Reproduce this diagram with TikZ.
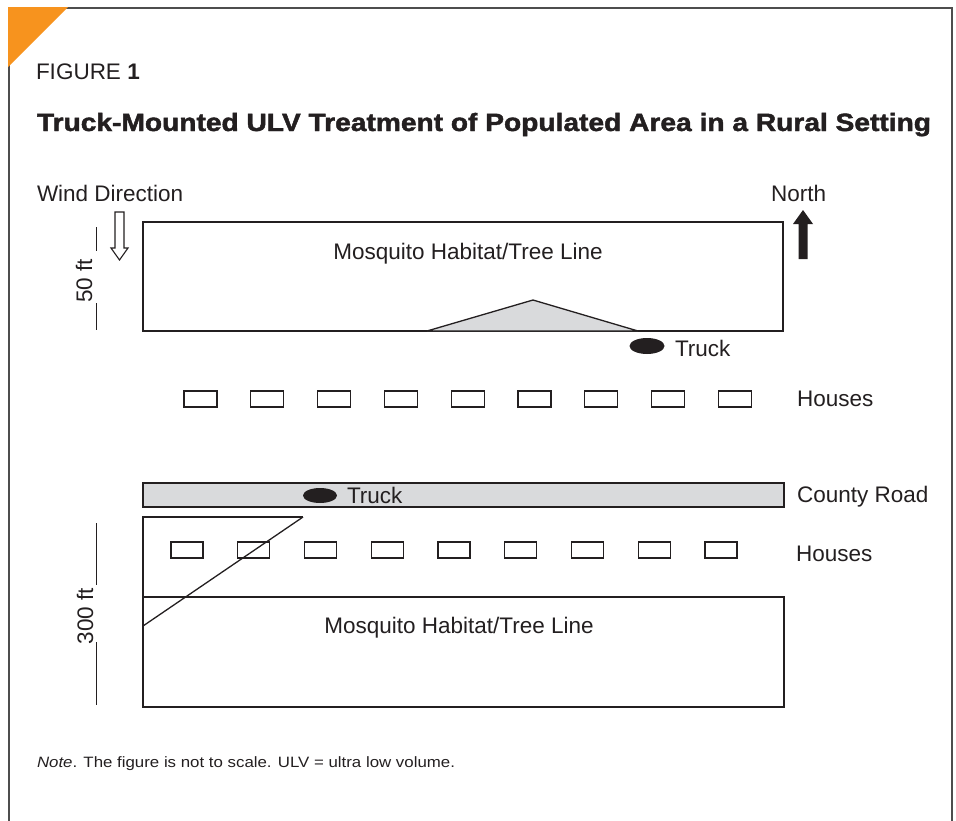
\documentclass[tikz,border=0pt]{standalone}
\usepackage{fontspec}
\setmainfont{Liberation Sans}
\newfontfamily\heavyfont{Liberation Sans}[UprightFont={* Bold}, FakeBold=1.6]
\usepackage{graphicx}
\definecolor{ink}{HTML}{231F20}
\definecolor{framegray}{HTML}{4D4D4D}
\definecolor{fillgray}{HTML}{D9DADC}
\definecolor{accent}{HTML}{F7931E}
\tikzset{
  lbl/.style={inner sep=0pt, outer sep=0pt, text=ink, font=\fontsize{22.5}{26}\selectfont},
  shapeline/.style={draw=ink, line width=1.3pt},
  house/.style={draw=ink, line width=1.2pt, fill=white},
  truckblob/.style={fill=ink, draw=none},
  dimline/.style={draw=ink, line width=1.0pt}
}
\begin{document}
\begin{tikzpicture}[x=1pt,y=-1pt]
\useasboundingbox (0,0) rectangle (956,820);
% frame
\draw[framegray, line width=1.6pt] (9,822) -- (9,8) -- (952,8) -- (952,822);
\fill[accent] (8.2,7.2) -- (68,7.2) -- (8.2,67) -- cycle;
% headings
\node[lbl, anchor=base west, font=\fontsize{22.5}{26}\selectfont] (fig) at (36,79) {FIGURE \textbf{1}};
\node[lbl, anchor=base west, font=\fontsize{25}{30}\heavyfont] (title) at (37,131)
  {\resizebox{894pt}{\height}{Truck-Mounted ULV Treatment of Populated Area in a Rural Setting}};
% wind and north
\node[lbl, anchor=base west] (wind) at (37,201) {Wind Direction};
\draw[ink, line width=1.1pt, fill=white] (115,212) -- (124,212) -- (124,248) -- (128,248) -- (119.5,260) -- (111,248) -- (115,248) -- cycle;
\node[lbl, anchor=base west] (north) at (771,201) {North};
\fill[ink] (798.5,259) -- (807.5,259) -- (807.5,224) -- (813,224) -- (803,210) -- (793,224) -- (798.5,224) -- cycle;
% 50 ft dimension
\node[lbl, rotate=90] (fifty) at (84,281) {50 ft};
\draw[dimline] (96,227) -- (96,251);
\draw[dimline] (96,303) -- (96,330);
% upper habitat
\draw[shapeline] (143,222) rectangle (783,331);
\node[lbl, anchor=base] (habtop) at (468,259) {Mosquito Habitat/Tree Line};
\draw[shapeline, fill=fillgray] (427,331) -- (533,300) -- (638,331) -- cycle;
\fill[truckblob] (647,346) ellipse [x radius=17.5, y radius=8];
\node[lbl, anchor=base west] (trucktop) at (675,356) {Truck};
% houses row 1
\foreach \i in {0,...,8} {
  \draw[house] ({184+66.8*\i},391) rectangle ({217+66.8*\i},407);
}
\node[lbl, anchor=base west] (houses1) at (797,406) {Houses};
% county road
\draw[shapeline, fill=fillgray] (143,483) rectangle (784,507);
\fill[truckblob] (320,495.5) ellipse [x radius=17, y radius=7.5];
\node[lbl, anchor=base west] (truckroad) at (347,503) {Truck};
\node[lbl, anchor=base west] (road) at (797,502) {County Road};
% lower area
\draw[shapeline] (303,517) -- (143,517) -- (143,597);
\draw[shapeline] (143,597) rectangle (784,707);
\foreach \i in {0,...,8} {
  \draw[house] ({171+66.75*\i},542) rectangle ({203+66.75*\i},558);
}
\draw[shapeline] (303,517) -- (143,626);
\node[lbl, anchor=base west] (houses2) at (796,561) {Houses};
\node[lbl, anchor=base] (habbot) at (459,633) {Mosquito Habitat/Tree Line};
% 300 ft dimension
\node[lbl, rotate=90] (threehundred) at (85,616) {300 ft};
\draw[dimline] (96,523) -- (96,585);
\draw[dimline] (96,642) -- (96,705);
% note
\node[lbl, anchor=base west, font=\fontsize{15}{18}\selectfont] (note) at (37,767)
  {\resizebox{418pt}{\height}{\textit{Note}. The figure is not to scale. ULV = ultra low volume.}};
\end{tikzpicture}
\end{document}
